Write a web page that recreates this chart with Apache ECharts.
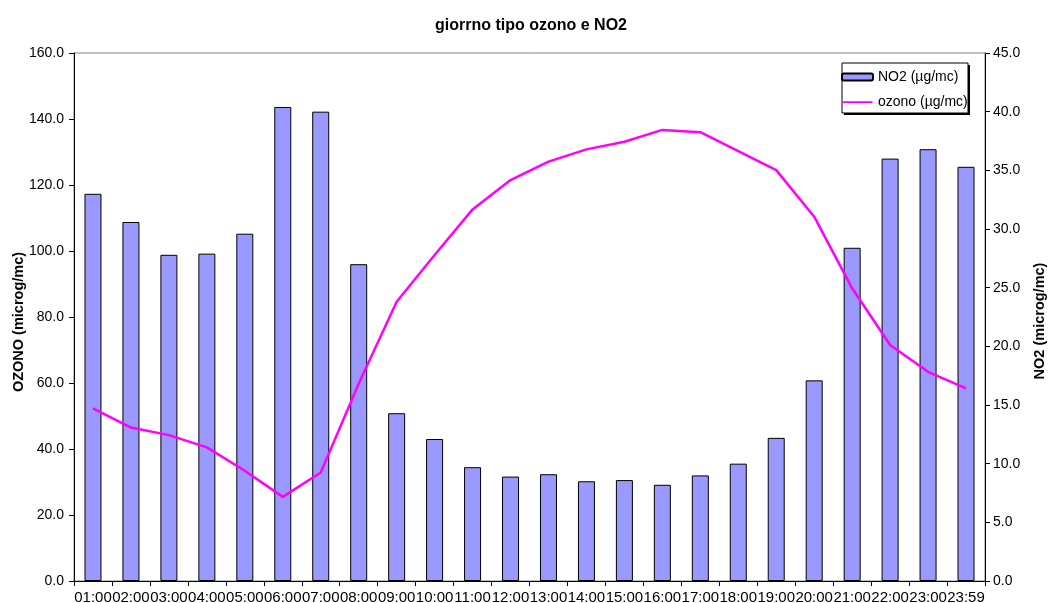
<!DOCTYPE html>
<html>
<head>
<meta charset="utf-8">
<script src="https://cdn.jsdelivr.net/npm/echarts@6/dist/echarts.min.js"></script>
<style>
  html, body { margin: 0; padding: 0; background: #fff; }
  #chart { width: 1049px; height: 603px; }
</style>
</head>
<body>
<div id="chart"></div>
<script>
// Hourly profile: NO2 bars (right axis) and ozone line (left axis)
const hours = ['01:00','02:00','03:00','04:00','05:00','06:00','07:00','08:00',
  '09:00','10:00','11:00','12:00','13:00','14:00','15:00','16:00','17:00','18:00',
  '19:00','20:00','21:00','22:00','23:00','23:59'];

const no2 = [33.0, 30.6, 27.8, 27.9, 29.6, 40.4, 40.0, 27.0, 14.3, 12.1, 9.7, 8.9,
  9.1, 8.5, 8.6, 8.2, 9.0, 10.0, 12.2, 17.1, 28.4, 36.0, 36.8, 35.3];

const ozono = [52.3, 46.5, 44.2, 40.5, 33.4, 25.5, 32.9, 59.8, 84.6, 98.8, 112.6, 121.5,
  127.1, 130.8, 133.1, 136.7, 136.0, 130.3, 124.5, 110.4, 88.7, 71.5, 63.4, 58.4];

const FONT = 'Liberation Sans, Arial, sans-serif';

// thin horizontal bar used as the legend key of the ozone line
const LINE_KEY = 'path://M0,0h0.01v0.01h-0.01z M0,2.8h30v1.6h-30z M29.99,7h0.01v-0.01h-0.01z';

const chart = echarts.init(document.getElementById('chart'), null, { renderer: 'canvas' });

const axisBase = {
  axisLine: { show: true, lineStyle: { color: '#000', width: 1 } },
  axisTick: { show: true, length: 5, lineStyle: { color: '#000' } },
  splitLine: { show: false },
  axisLabel: { color: '#000', fontFamily: FONT, fontSize: 14, formatter: v => v.toFixed(1) },
  nameLocation: 'middle',
  nameRotate: 90,
  nameMoveOverlap: false
};

chart.setOption({
  animation: false,
  backgroundColor: '#fff',
  title: {
    text: 'giorrno tipo ozono e NO2',
    left: 526, top: 13, textAlign: 'center',
    textStyle: { fontFamily: FONT, fontSize: 16, fontWeight: 'bold', color: '#000' }
  },
  grid: {
    left: 74, right: 64, top: 53, bottom: 22,
    containLabel: false, outerBoundsMode: 'none',
    show: true, borderColor: '#808080', borderWidth: 1, backgroundColor: 'transparent'
  },
  legend: {
    orient: 'vertical',
    left: 836, top: 65,
    itemWidth: 31, itemHeight: 7, itemGap: 11,
    textStyle: { fontFamily: FONT, fontSize: 14, color: '#000' },
    data: [
      { name: 'NO2 (µg/mc)' },
      { name: 'ozono (µg/mc)', icon: LINE_KEY }
    ]
  },
  graphic: [
    { type: 'rect', shape: { x: 844, y: 65, width: 126, height: 50 },
      style: { fill: '#000' }, z: 0 },
    { type: 'rect', shape: { x: 842, y: 63, width: 126, height: 50 },
      style: { fill: '#fff', stroke: '#000', lineWidth: 1 }, z: 1 }
  ],
  xAxis: {
    type: 'category',
    data: hours,
    boundaryGap: true,
    axisLine: { lineStyle: { color: '#000' } },
    axisTick: { show: true, length: 5, interval: 0, lineStyle: { color: '#000' } },
    axisLabel: { interval: 0, color: '#000', fontFamily: FONT, fontSize: 15, margin: 9 }
  },
  yAxis: [
    Object.assign({}, axisBase, {
      type: 'value', min: 0, max: 160, interval: 20, position: 'left',
      axisLabel: Object.assign({}, axisBase.axisLabel, { margin: 10 }),
      name: 'OZONO (microg/mc)', nameGap: 48,
      nameTextStyle: { color: '#000', fontFamily: FONT, fontSize: 14.5, fontWeight: 'bold',
        padding: [0, 10, 0, 0] }
    }),
    Object.assign({}, axisBase, {
      type: 'value', min: 0, max: 45, interval: 5, position: 'right',
      axisLabel: Object.assign({}, axisBase.axisLabel, { margin: 8 }),
      name: 'NO2 (microg/mc)', nameGap: 47,
      nameTextStyle: { color: '#000', fontFamily: FONT, fontSize: 14.5, fontWeight: 'bold',
        padding: [0, 8, 0, 0] }
    })
  ],
  series: [
    {
      name: 'NO2 (µg/mc)',
      type: 'bar',
      yAxisIndex: 1,
      data: no2,
      barWidth: 17,
      itemStyle: { color: '#9999FF', borderColor: '#000', borderWidth: 1 },
      z: 2
    },
    {
      name: 'ozono (µg/mc)',
      type: 'line',
      yAxisIndex: 0,
      data: ozono,
      symbol: 'none',
      lineStyle: { color: '#FF00FF', width: 2.5 },
      itemStyle: { color: '#FF00FF' },
      z: 3
    }
  ]
});
</script>
</body>
</html>
